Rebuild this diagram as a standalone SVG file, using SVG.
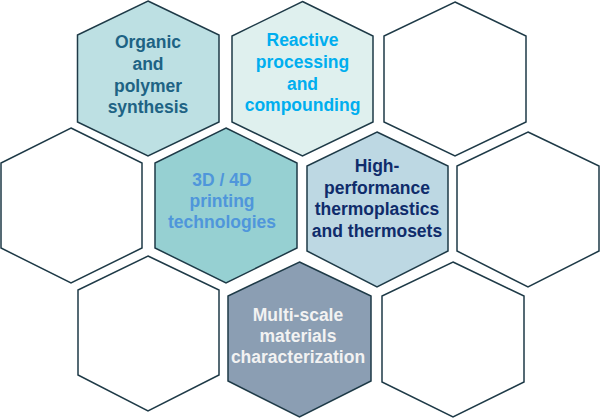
<svg xmlns="http://www.w3.org/2000/svg" width="600" height="418" viewBox="0 0 600 418">
<style>
.hex{stroke:#1e3a47;stroke-width:1.5;stroke-linejoin:miter}
.w{fill:#ffffff}
.t{font-family:"Liberation Sans",Arial,sans-serif;font-weight:bold;font-size:17.5px;text-anchor:middle}
</style>
<rect width="600" height="418" fill="#ffffff"/>
<g id="node-organic">
<polygon class="hex" fill="#bde0e3" points="148,1 219,35 219,122 148,156 77.5,122 77.5,35"/>
<text class="t" fill="#1e6384"><tspan x="148" y="48">Organic</tspan><tspan x="148" y="70">and</tspan><tspan x="148" y="92">polymer</tspan><tspan x="148" y="113">synthesis</tspan></text>
</g>
<g id="node-reactive">
<polygon class="hex" fill="#dff0ee" points="302.5,1.5 373,36 373,122 302.5,156 232,122 232,36"/>
<text class="t" fill="#00aeef"><tspan x="302.5" y="46">Reactive</tspan><tspan x="302.5" y="68">processing</tspan><tspan x="302.5" y="90">and</tspan><tspan x="302.5" y="111">compounding</tspan></text>
</g>
<g id="node-empty-1">
<polygon class="hex w" points="455,2 526,36 526,122 455,156 384,122 384,36"/>
</g>
<g id="node-empty-2">
<polygon class="hex w" points="71,128 142,163 142,248 71,283 1,248 1,163"/>
</g>
<g id="node-printing">
<polygon class="hex" fill="#96d0d2" points="226,128 297,163 297,248 226,283 155,248 155,163"/>
<text class="t" fill="#4f96db"><tspan x="222" y="186">3D / 4D</tspan><tspan x="222" y="207">printing</tspan><tspan x="222" y="228">technologies</tspan></text>
</g>
<g id="node-highperf">
<polygon class="hex" fill="#bdd8e3" points="377,132 448,166 448,251 377,287 307,251 307,166"/>
<text class="t" fill="#0f2c6b"><tspan x="377" y="172">High-</tspan><tspan x="377" y="194">performance</tspan><tspan x="377" y="215">thermoplastics</tspan><tspan x="377" y="237">and thermosets</tspan></text>
</g>
<g id="node-empty-3">
<polygon class="hex w" points="528,132 599,166 599,251 528,287 457,251 457,166"/>
</g>
<g id="node-empty-4">
<polygon class="hex w" points="148,256 219,290 219,375 148,411 78,375 78,290"/>
</g>
<g id="node-multiscale">
<polygon class="hex" fill="#8b9eb3" points="299.5,262 371,296 371,381 299.5,417 228,381 228,296"/>
<text class="t" fill="#f2f2f2"><tspan x="298" y="321">Multi-scale</tspan><tspan x="298" y="342">materials</tspan><tspan x="298" y="363">characterization</tspan></text>
</g>
<g id="node-empty-5">
<polygon class="hex w" points="453,262 524,296 524,382 453,417 382,382 382,296"/>
</g>
<g id="connectors"></g>
</svg>
